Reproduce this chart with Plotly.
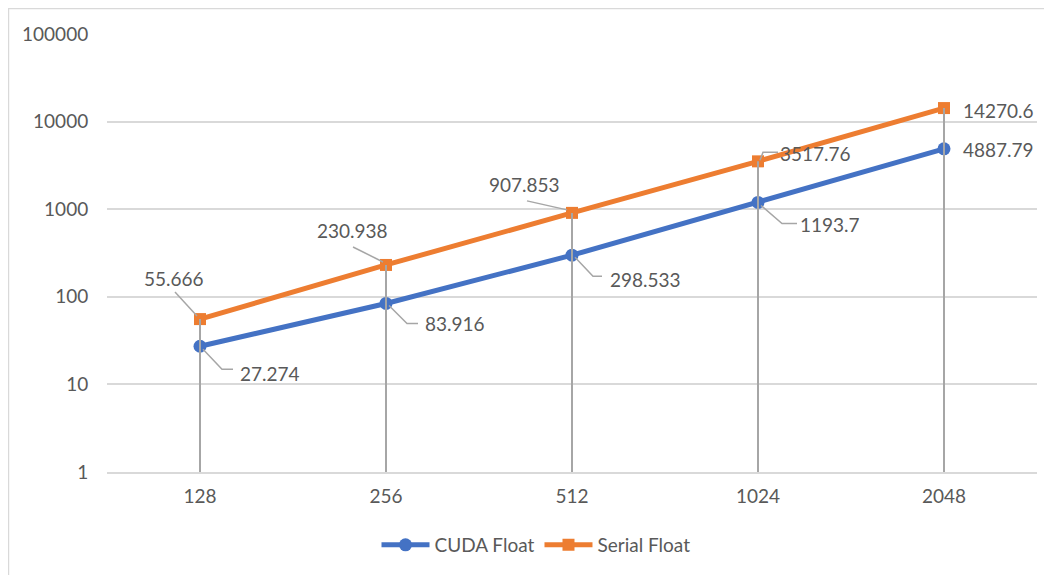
import math
import plotly.graph_objects as go

categories = ["128", "256", "512", "1024", "2048"]
cuda_float = [27.274, 83.916, 298.533, 1193.7, 4887.79]
serial_float = [55.666, 230.938, 907.853, 3517.76, 14270.6]
cuda_labels = ["27.274", "83.916", "298.533", "1193.7", "4887.79"]
serial_labels = ["55.666", "230.938", "907.853", "3517.76", "14270.6"]
y_tickvals = [1, 10, 100, 1000, 10000, 100000]
y_ticktext = ["1", "10", "100", "1000", "10000", "100000"]

BLUE = "#4472C4"
ORANGE = "#ED7D31"
GRID = "#D9D9D9"
TEXT = "#595959"
DROP = "#A6A6A6"
FONT = "Lato"
FS = 19

fig = go.Figure()
fig.add_trace(go.Scatter(x=categories, y=cuda_float, mode="lines+markers", name="CUDA Float",
                         line=dict(color=BLUE, width=5),
                         marker=dict(symbol="circle", size=13, color=BLUE)))
fig.add_trace(go.Scatter(x=categories, y=serial_float, mode="lines+markers", name="Serial Float",
                         line=dict(color=ORANGE, width=5),
                         marker=dict(symbol="square", size=12, color=ORANGE)))

# drop lines
dx, dy = [], []
for c, a, b in zip(categories, cuda_float, serial_float):
    dx += [c, c, None]
    dy += [max(a, b), y_tickvals[0], None]
fig.add_trace(go.Scatter(x=dx, y=dy, mode="lines", line=dict(color=DROP, width=2),
                         showlegend=False, hoverinfo="skip"))

# label placement (pixel offsets, screen coords: +down) and leader paths
serial_place = [
    ("center", -26, -41, [(-25, -27), (-3, -3)]),
    ("center", -34, -34, [(-33, -18), (-3, -3)]),
    ("center", -48, -28, [(-45, -12), (-5, -3)]),
    ("left", 20, -8, [(2, -1), (5, -9), (20, -9)]),
    ("left", 17, 2, None),
]
cuda_place = [
    ("left", 38, 27, [(3, 3), (22, 23), (33, 23)]),
    ("left", 37, 20, [(3, 2), (21, 20), (32, 20)]),
    ("left", 36, 24, [(3, 2), (21, 21), (30, 21)]),
    ("left", 40, 22, [(3, 3), (24, 21), (39, 21)]),
    ("left", 17, 1, None),
]

annotations = []
shapes = []
for vals, texts, places in ((serial_float, serial_labels, serial_place),
                            (cuda_float, cuda_labels, cuda_place)):
    for i, (v, t, p) in enumerate(zip(vals, texts, places)):
        anchor, ox, oy, leader = p
        annotations.append(dict(x=i, y=math.log10(v), xref="x", yref="y", text=t,
                                showarrow=False, xanchor=anchor, yanchor="middle",
                                xshift=ox, yshift=-oy,
                                font=dict(family=FONT, size=FS, color=TEXT)))
        if leader:
            path = "M " + " L ".join(f"{px} {-py}" for px, py in leader)
            shapes.append(dict(type="path", xref="x", yref="y", xsizemode="pixel",
                               ysizemode="pixel", xanchor=i, yanchor=v,
                               path=path, line=dict(color=DROP, width=1.5)))

# layout geometry (page body has an 8px offset)
L, R, T, B = 99, 23, 26, 111
W, H = 1052, 575
pw, ph = W - L - R, H - T - B
shapes.append(dict(type="rect", xref="paper", yref="paper", layer="below",
                   x0=-L / pw + 0.0005, x1=1.3, y0=-0.6, y1=1 + T / ph - 0.001,
                   line=dict(color=GRID, width=1.5), fillcolor="rgba(0,0,0,0)"))

fig.update_layout(
    width=W, height=H,
    margin=dict(l=L, r=R, t=T, b=B),
    paper_bgcolor="white", plot_bgcolor="white",
    font=dict(family=FONT, size=FS, color=TEXT),
    showlegend=True,
    legend=dict(orientation="h", x=(536 - 8 - L) / pw, xanchor="center",
                y=(464 - 537) / ph, yanchor="middle",
                font=dict(family=FONT, size=FS, color=TEXT), itemwidth=48),
    annotations=annotations,
    shapes=shapes,
)
fig.update_xaxes(type="category", categoryorder="array", categoryarray=categories,
                 range=[-0.5, len(categories) - 0.5], showgrid=False,
                 showline=True, linecolor=GRID, linewidth=2,
                 ticks="outside", ticklen=6, tickcolor="rgba(0,0,0,0)",
                 tickfont=dict(family=FONT, size=FS, color=TEXT), zeroline=False)
fig.update_yaxes(type="log", range=[0, 5], tickmode="array", tickvals=y_tickvals,
                 ticktext=y_ticktext, showgrid=True, gridcolor=GRID, gridwidth=2,
                 showline=False, zeroline=False,
                 ticks="outside", ticklen=14, tickcolor="rgba(0,0,0,0)",
                 tickfont=dict(family=FONT, size=FS, color=TEXT))

fig.write_html("out.html")
